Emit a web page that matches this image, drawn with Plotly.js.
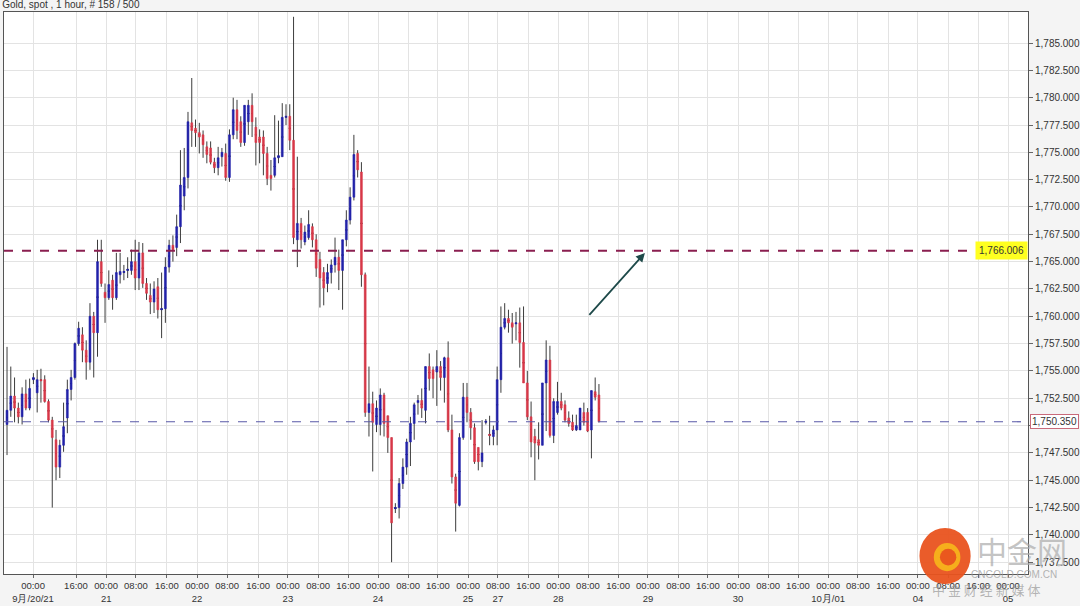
<!DOCTYPE html>
<html>
<head>
<meta charset="utf-8">
<script src="https://cdn.plot.ly/plotly-3.0.1.min.js"></script>
<style>
html,body{margin:0;padding:0;background:#f4f4f4;}
#chart{width:1080px;height:606px;}
</style>
</head>
<body>
<div id="chart"></div>
<script>
// ---- Data (hourly gold spot candles) ----
const openP = [
1750.1,1751.4,1752.7,1751.6,1750.8,1752.9,1751.6,1754.2,1753.0,1754.2,1754.2,1752.2,1750.5,1748.7,1746.2,1748.2,1750.7,1753.3,1754.4,1757.5,
1758.3,1756.9,1755.8,1760.0,1758.5,1765.0,1762.2,1761.7,1763.3,1761.7,1763.8,1764.0,1764.2,1764.2,1765.0,1763.5,1765.8,1763.0,1761.9,1761.3,
1762.7,1760.6,1760.7,1764.5,1766.5,1766.3,
1768.2,1771.0,1772.7,1777.7,1777.2,1776.8,1776.6,1775.5,1775.4,1774.1,1773.6,1774.6,1774.9,1772.7,1776.6,1778.9,1777.8,1775.9,1777.8,1779.3,
1777.3,1776.4,1776.4,1774.9,1772.9,1772.9,1774.5,1774.6,1778.2,1778.3,1776.1,1767.0,1768.5,1766.8,1767.2,1768.2,1767.0,1765.2,1764.0,1763.0,
1764.0,1764.7,1765.4,1764.2,1767.0,1768.8,1770.9,1774.9,1773.2,1763.8,1751.2,1752.0,1750.1,1750.1,1752.8,1750.9,1748.9,1742.4,1742.5,1744.7,
1746.2,1748.5,1750.2,1752.1,1752.3,1751.4,1755.4,1755.1,1754.9,1755.4,1754.4,1756.2,1749.6,1745.3,1742.7,1748.9,1752.6,1751.2,1749.8,1748.0,
1746.7,1750.3,1749.2,1749.0,1749.6,1754.2,1759.0,1759.8,1759.4,1759.3,1759.4,1757.6,1753.9,1750.8,1749.0,1748.7,1748.2,1753.9,1756.0,1749.1,
1751.2,1752.2,1751.9,1750.7,1750.3,1749.6,1749.6,1751.2,1751.2,1749.6,1753.1,1752.8
];
const highP = [
1757.2,1755.4,1754.4,1752.1,1753.5,1754.2,1754.3,1754.8,1755.1,1755.2,1754.6,1752.4,1750.8,1749.6,1748.7,1752.1,1754.2,1755.1,1757.6,1759.5,
1759.0,1757.8,1761.2,1760.4,1767.0,1767.0,1763.0,1764.2,1763.8,1765.8,1765.8,1764.7,1765.4,1766.1,1767.0,1766.8,1766.7,1763.5,1763.0,1763.2,
1763.5,1764.0,1765.4,1767.0,1767.4,1769.3,
1775.2,1775.4,1778.7,1781.8,1778.0,1777.7,1777.0,1776.0,1776.0,1774.5,1775.5,1775.4,1775.8,1777.1,1780.0,1779.8,1778.3,1779.3,1779.8,1780.4,
1778.2,1777.1,1777.0,1775.5,1774.3,1778.4,1777.9,1779.5,1779.4,1779.4,1787.4,1774.6,1769.0,1768.3,1769.7,1768.5,1767.5,1765.9,1764.5,1764.8,
1765.2,1767.2,1766.1,1767.0,1769.7,1771.8,1776.6,1775.2,1774.1,1764.0,1755.4,1753.1,1752.3,1753.4,1753.0,1750.9,1748.9,1742.9,1745.2,1747.0,
1748.8,1750.8,1752.1,1752.8,1753.4,1755.4,1756.6,1755.4,1756.9,1755.9,1756.3,1757.7,1751.0,1745.6,1749.3,1753.9,1753.9,1751.6,1750.2,1748.0,
1750.5,1750.6,1750.9,1750.0,1755.4,1760.9,1761.2,1760.6,1760.3,1760.4,1760.8,1760.9,1755.0,1752.2,1749.7,1750.3,1753.9,1757.8,1757.3,1752.5,
1754.0,1753.0,1752.3,1751.3,1751.0,1751.0,1751.6,1752.1,1751.6,1753.2,1754.4,1753.8
];
const lowP = [
1747.3,1750.8,1750.3,1750.2,1750.1,1751.4,1751.4,1753.8,1751.2,1752.1,1752.1,1750.3,1742.5,1745.0,1745.2,1747.6,1749.3,1752.3,1754.2,1757.3,
1755.8,1754.2,1755.1,1754.4,1756.3,1762.7,1759.4,1761.5,1760.6,1761.5,1763.0,1763.3,1763.5,1763.8,1762.4,1762.4,1762.6,1761.5,1760.2,1760.3,
1759.8,1758.0,1759.4,1764.0,1765.0,1765.5,
1766.7,1769.7,1771.7,1775.5,1775.5,1774.9,1774.5,1774.0,1773.9,1773.1,1772.9,1773.7,1772.4,1772.3,1776.2,1776.2,1775.5,1775.6,1776.6,1776.4,
1773.8,1774.0,1772.9,1772.0,1771.5,1772.7,1774.0,1774.6,1777.5,1775.2,1766.6,1764.5,1766.2,1766.5,1767.0,1766.3,1763.6,1760.8,1761.0,1762.2,
1763.0,1764.0,1762.4,1760.6,1766.4,1768.4,1770.6,1772.7,1762.7,1750.8,1749.0,1745.8,1749.4,1749.1,1749.0,1747.5,1737.5,1742.0,1741.5,1744.2,
1745.5,1746.3,1748.7,1751.0,1750.7,1750.2,1753.2,1752.5,1751.8,1753.2,1752.1,1749.4,1744.7,1740.3,1742.6,1748.7,1750.3,1748.7,1746.5,1745.9,
1746.2,1750.1,1748.2,1748.2,1748.2,1753.0,1758.8,1758.5,1757.5,1757.8,1755.3,1753.9,1750.5,1747.1,1745.0,1746.9,1748.2,1749.5,1748.9,1748.4,
1751.0,1751.4,1750.3,1749.9,1749.5,1749.5,1749.6,1750.0,1749.4,1747.0,1752.3,1750.3
];
const closeP = [
1751.4,1752.7,1751.6,1750.8,1752.9,1751.6,1753.4,1754.4,1754.2,1754.1,1752.2,1750.5,1748.9,1746.2,1748.2,1749.9,1753.3,1754.4,1757.5,1758.9,
1756.9,1755.8,1760.0,1758.5,1765.0,1763.0,1761.7,1762.9,1761.7,1764.0,1764.1,1764.1,1764.3,1765.0,1763.5,1765.8,1763.0,1762.1,1761.3,1762.5,
1760.6,1760.7,1764.5,1766.5,1766.1,1768.2,
1772.0,1772.7,1777.8,1777.0,1776.8,1776.4,1775.7,1774.8,1774.1,1773.6,1774.5,1775.0,1772.7,1776.6,1778.9,1777.0,1775.9,1779.3,1779.3,1777.8,
1775.9,1775.9,1774.9,1772.6,1772.6,1774.5,1774.7,1778.2,1778.3,1776.1,1767.2,1768.5,1767.0,1767.7,1768.4,1767.0,1764.4,1763.5,1762.6,1764.0,
1764.7,1765.4,1764.2,1767.0,1768.8,1770.9,1774.8,1773.4,1763.8,1751.2,1752.0,1750.3,1751.6,1752.8,1750.2,1748.9,1741.1,1742.5,1744.7,1746.2,
1748.5,1750.2,1751.9,1752.3,1751.6,1755.4,1754.3,1754.3,1755.4,1754.4,1756.2,1749.6,1745.3,1742.9,1748.9,1752.6,1751.2,1749.8,1746.7,1746.7,
1747.5,1750.4,1749.1,1749.6,1754.2,1759.0,1759.8,1759.4,1759.0,1759.4,1757.6,1753.9,1750.8,1748.5,1748.4,1748.2,1753.9,1756.0,1749.1,1752.2,
1752.2,1751.6,1750.5,1750.2,1749.6,1750.0,1751.6,1750.3,1749.5,1753.2,1752.6,1750.35
];

// Axis labels
const tickTimes = ['00:00','16:00','00:00','08:00','16:00','00:00','08:00','16:00','00:00','08:00','16:00','00:00','08:00','16:00','00:00','08:00','16:00',
                   '00:00','08:00','16:00','00:00','08:00','16:00','00:00','08:00','16:00','00:00','08:00','16:00','00:00','08:00','16:00','00:00'];
const tickDates = ['9月/20/21','','21','','','22','','','23','','','24','','','25','27','',
                   '28','','','29','','','30','','','10月/01','','','04','','','05'];
const tickIdx = [6.9,18.3,26.3,34.2,42.4,50.4,58.4,66.6,74.5,82.5,90.5,98.4,106.4,114.3,122.3,130.2,138.2,
                 146.2,154.1,162.1,170.0,178.0,185.9,193.9,201.9,209.8,217.8,225.7,233.7,241.6,249.6,257.6,265.5];
const priceTicks = [1737.5,1740,1742.5,1745,1747.5,1750,1752.5,1755,1757.5,1760,1762.5,1765,1767.5,1770,1772.5,1775,1777.5,1780,1782.5,1785];

const resistanceLevel = 1766.006;
const lastPrice = 1750.35;
const arrowFrom = {x: 154.1, y: 1760.0};
const arrowTo = {x: 169.2, y: 1765.8};

// ---- Build traces ----
const xs = openP.map((_, i) => i);
const mid = openP.map((o, i) => (o + closeP[i]) / 2);
const bodyHi = openP.map((o, i) => Math.max(o, closeP[i]));
const bodyLo = openP.map((o, i) => Math.min(o, closeP[i]));

const WICK = '#3c3c3c', UP = '#2222aa', DOWN = '#d83848';

const wickTrace = {
  type: 'candlestick', x: xs, open: mid, close: mid, high: highP, low: lowP,
  increasing: {line: {color: WICK, width: 1}, fillcolor: WICK},
  decreasing: {line: {color: WICK, width: 1}, fillcolor: WICK},
  hoverinfo: 'skip', showlegend: false
};
const bodyTrace = {
  type: 'candlestick', x: xs, open: openP, close: closeP, high: bodyHi, low: bodyLo,
  increasing: {line: {color: UP, width: 0.6}, fillcolor: UP},
  decreasing: {line: {color: DOWN, width: 0.6}, fillcolor: DOWN},
  showlegend: false
};

const ticktext = tickTimes.map((t, i) => tickDates[i] ? t + '<br>' + tickDates[i] : t + '<br> ');
// the 1,750.000 label sits under the last-price box in the reference
const priceText = priceTicks.map(v => v === 1750 ? '' : v.toLocaleString('en-US', {minimumFractionDigits: 3, maximumFractionDigits: 3}));
const font = 'Liberation Sans, Arial, sans-serif';

const layout = {
  width: 1080, height: 606, autosize: false,
  margin: {l: 4, r: 52, t: 12, b: 32, pad: 0},
  paper_bgcolor: '#f4f4f4', plot_bgcolor: '#ffffff',
  showlegend: false,
  title: {text: 'Gold, spot , 1 hour, # 158 / 500', x: 0.002, xanchor: 'left', y: 0.998, yanchor: 'top',
          font: {family: font, size: 10, color: '#333333'}},
  xaxis: {
    range: [-0.8, 270.8], tickmode: 'array', tickvals: tickIdx, ticktext: ticktext, tickangle: 0,
    showgrid: true, gridcolor: '#e3e3e3', gridwidth: 1, zeroline: false,
    ticks: 'outside', ticklen: 3, tickcolor: '#666', showline: true, linecolor: '#555', linewidth: 1, mirror: true,
    tickfont: {family: font, size: 9.5, color: '#333'}, rangeslider: {visible: false}, fixedrange: true
  },
  yaxis: {
    side: 'right', range: [1736.42, 1787.84], tickmode: 'array', tickvals: priceTicks, ticktext: priceText,
    showgrid: true, gridcolor: '#e3e3e3', gridwidth: 1, zeroline: false,
    ticks: 'outside', ticklen: 4, tickcolor: '#666', showline: true, linecolor: '#555', linewidth: 1, mirror: true,
    tickfont: {family: font, size: 10, color: '#333'}, fixedrange: true
  },
  shapes: [
    {type: 'line', xref: 'paper', yref: 'y', x0: 0, x1: 1, y0: resistanceLevel, y1: resistanceLevel,
     line: {color: '#8a1f50', width: 2, dash: 'dash'}},
    {type: 'line', xref: 'paper', yref: 'y', x0: 0, x1: 1, y0: lastPrice, y1: lastPrice,
     line: {color: '#5a5aa8', width: 1.2, dash: 'dash'}},
    // watermark logo
    {type: 'circle', xref: 'paper', yref: 'paper', x0: 0.894, x1: 0.944, y0: -0.018, y1: 0.082,
     fillcolor: '#e9531f', line: {width: 0}, layer: 'above', opacity: 0.95},
    {type: 'circle', xref: 'paper', yref: 'paper', x0: 0.908, x1: 0.934, y0: 0.005, y1: 0.055,
     fillcolor: '#f7b21b', line: {width: 0}, layer: 'above', opacity: 0.95},
    {type: 'circle', xref: 'paper', yref: 'paper', x0: 0.914, x1: 0.930, y0: 0.015, y1: 0.045,
     fillcolor: '#e9531f', line: {width: 0}, layer: 'above', opacity: 0.95}
  ],
  annotations: [
    {x: arrowTo.x, y: arrowTo.y, ax: arrowFrom.x, ay: arrowFrom.y, xref: 'x', yref: 'y', axref: 'x', ayref: 'y',
     showarrow: true, arrowhead: 2, arrowsize: 1, arrowwidth: 1.8, arrowcolor: '#1e4a4a', text: ''},
    {x: 1, y: resistanceLevel, xref: 'paper', yref: 'y', xanchor: 'right', yanchor: 'middle', showarrow: false,
     text: '1,766.006', bgcolor: '#ffff20', font: {family: font, size: 10, color: '#333'}, borderpad: 3},
    {x: 1.002, y: lastPrice, xref: 'paper', yref: 'y', xanchor: 'left', yanchor: 'middle', showarrow: false,
     text: '1,750.350', bgcolor: '#ffffff', bordercolor: '#c96a7a', borderwidth: 1, borderpad: 1,
     font: {family: font, size: 10, color: '#333'}},
    {x: 0.948, y: 0.043, xref: 'paper', yref: 'paper', xanchor: 'left', yanchor: 'middle', showarrow: false,
     text: '中金网', font: {family: 'Noto Sans CJK SC', size: 30, color: 'rgba(170,170,170,0.7)'}},
    {x: 0.942, y: 0.0, xref: 'paper', yref: 'paper', xanchor: 'left', yanchor: 'middle', showarrow: false,
     text: 'CNGOLD.COM.CN', font: {family: font, size: 10, color: 'rgba(160,160,160,0.8)'}},
    {x: 0.904, y: -0.028, xref: 'paper', yref: 'paper', xanchor: 'left', yanchor: 'middle', showarrow: false,
     text: '中 金 财 经 新 媒 体', font: {family: 'Noto Sans CJK SC', size: 13, color: 'rgba(150,150,150,0.7)'}}
  ]
};

Plotly.newPlot('chart', [wickTrace, bodyTrace], layout, {displayModeBar: false, staticPlot: true});
</script>
</body>
</html>
